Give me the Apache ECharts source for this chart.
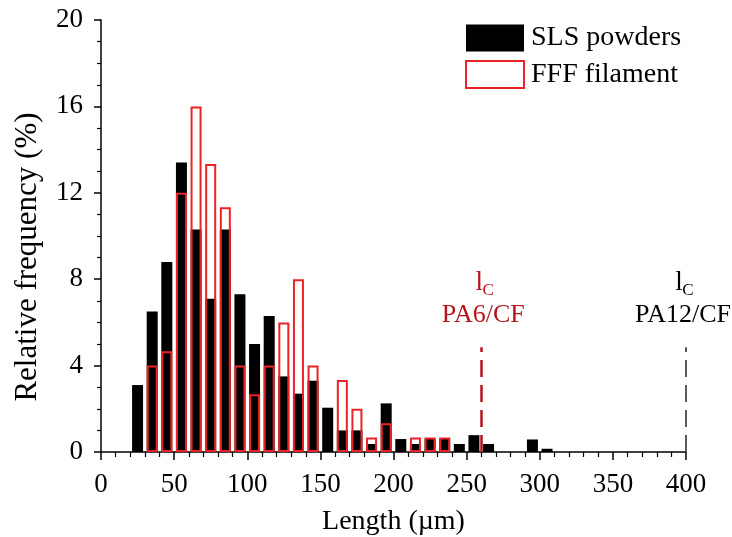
<!DOCTYPE html>
<html><head><meta charset="utf-8">
<script src="https://cdn.jsdelivr.net/npm/echarts@6/dist/echarts.min.js"></script>
<style>html,body{margin:0;padding:0;background:#fff}#c{width:732px;height:537px}</style>
</head><body><div id="c"></div>
<script>
// Bin centres (µm) and relative frequencies (%)
const slsBins   = [25,35,45,55,65,75,85,95,105,115,125,135,145,155,165,175,185,195,205,215,225,235,245,255,265,295,305];
const slsValues = [3.1,6.5,8.8,13.4,10.3,7.1,10.3,7.3,5.0,6.3,3.5,2.7,3.3,2.05,1.0,1.0,0.37,2.25,0.6,0.37,0.6,0.6,0.37,0.78,0.37,0.58,0.15];
const fffBins   = [35,45,55,65,75,85,95,105,115,125,135,145,165,175,185,195,215,225,235];
const fffValues = [4.0,4.67,12.0,16.0,13.33,11.33,4.0,2.67,4.0,6.0,8.0,4.0,3.33,2.0,0.67,1.33,0.67,0.67,0.67];
const seriesNames = ['SLS powders','FFF filament'];
// critical fibre lengths
const critX = [260, 400];
const critTop = [4.85, 4.85];
const critLabels = ['PA6/CF','PA12/CF'];
const xTicks = {min:0, max:400, interval:50};
const yTicks = {min:0, max:20, interval:4};

const FONT = 'Liberation Serif';
const RED = '#ec2227';
const DARKRED = '#b5141c';
const GRAY = '#5a5a5a';

const chart = echarts.init(document.getElementById('c'), null, {renderer:'canvas'});
const axisCommon = {
  axisLine:{show:true, onZero:false, lineStyle:{color:'#000', width:1.5}},
  splitLine:{show:false},
};
chart.setOption({
  animation:false,
  backgroundColor:'#fff',
  grid:{left:101, right:46, top:20, bottom:85, containLabel:false, outerBoundsMode:'none'},
  legend:{
    orient:'vertical', left:460, top:19, itemWidth:58, itemHeight:27, itemGap:8,
    selectedMode:false,
    textStyle:{fontFamily:FONT, fontSize:28, color:'#000', padding:[0,0,0,2]},
    data:[
      {name:seriesNames[0], icon:'rect', itemStyle:{color:'#000', borderWidth:0}},
      {name:seriesNames[1], icon:'rect', itemStyle:{color:'#fff', borderColor:RED, borderWidth:2}}
    ]
  },
  xAxis:Object.assign({}, axisCommon, {
    type:'value', min:xTicks.min, max:xTicks.max, interval:xTicks.interval,
    axisTick:{show:true, length:8, lineStyle:{color:'#000', width:1.5}},
    minorTick:{show:true, splitNumber:5, length:5, lineStyle:{color:'#000', width:1.2}},
    axisLabel:{color:'#000', fontFamily:FONT, fontSize:27, margin:19},
    name:'Length (µm)', nameLocation:'middle', nameGap:56,
    nameTextStyle:{fontFamily:FONT, fontSize:28, color:'#000'}
  }),
  yAxis:Object.assign({}, axisCommon, {
    type:'value', min:yTicks.min, max:yTicks.max, interval:yTicks.interval,
    axisTick:{show:true, length:7, lineStyle:{color:'#000', width:1.5}},
    minorTick:{show:true, splitNumber:4, length:4, lineStyle:{color:'#000', width:1.2}},
    axisLabel:{color:'#000', fontFamily:FONT, fontSize:27, margin:18}
  }),
  series:[
    {
      name:seriesNames[0], type:'bar', barWidth:11, barGap:'-100%',
      itemStyle:{color:'#000'},
      data:slsBins.map((b,i)=>[b, slsValues[i]]),
      markLine:{silent:true, symbol:'none', label:{show:false},
        data:[[{coord:[critX[1],0], lineStyle:{color:GRAY, width:2, type:[17,8]}},{coord:[critX[1],critTop[1]]}]]}
    },
    {
      name:seriesNames[1], type:'bar', barWidth:11, barGap:'-100%',
      itemStyle:{color:'rgba(0,0,0,0)', borderColor:RED, borderWidth:2},
      data:fffBins.map((b,i)=>[b, fffValues[i]]),
      markLine:{silent:true, symbol:'none', label:{show:false},
        data:[[{coord:[critX[0],0], lineStyle:{color:DARKRED, width:2.5, type:[17,8]}},{coord:[critX[0],critTop[0]]}]]}
    }
  ]
});

// annotations and y-axis title
const graphics = [];
const colors = [DARKRED, '#000'];
critX.forEach((x,i)=>{
  const p = chart.convertToPixel({xAxisIndex:0, yAxisIndex:0}, [x, critTop[i]]);
  const cx = Math.min(p[0] + 2, 683);
  graphics.push({type:'text', x:cx - 4, y:p[1] - 64,
    style:{text:'l', fontFamily:FONT, fontSize:27, fill:colors[i], align:'center', verticalAlign:'middle'}});
  graphics.push({type:'text', x:cx + 5, y:p[1] - 57,
    style:{text:'C', fontFamily:FONT, fontSize:17, fill:colors[i], align:'center', verticalAlign:'middle'}});
  graphics.push({type:'text', x:cx, y:p[1] - 32,
    style:{text:critLabels[i], fontFamily:FONT, fontSize:26, fill:colors[i], align:'center', verticalAlign:'middle'}});
});
graphics.push({type:'text', x:28, y:257, rotation:Math.PI/2,
  style:{text:'Relative frequency (%)', fontFamily:FONT, fontSize:31, fill:'#000', align:'center', verticalAlign:'middle'}});
chart.setOption({graphic:graphics});
</script>
</body></html>
